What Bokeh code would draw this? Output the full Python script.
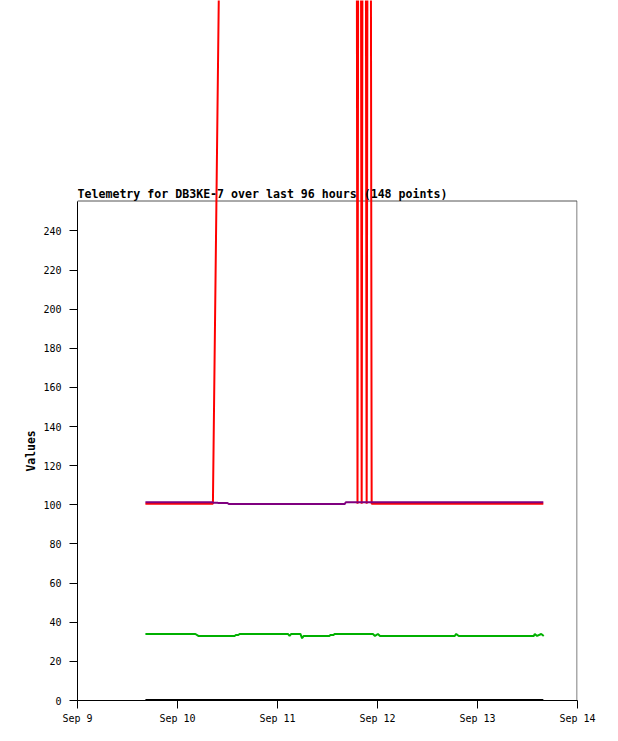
from datetime import datetime, timedelta

from bokeh.plotting import figure
from bokeh.models import (Range1d, FixedTicker, CustomJSTickFormatter,
                          BoxAnnotation, Label, Title)
from bokeh.embed import file_html
from bokeh.resources import INLINE

# ---- data (hours after 2024-09-09 00:00, value) ----
BASE = datetime(2024, 9, 9)

red_hours = [16.3, 32.5, 37.4, 66.7, 67.2, 67.7, 68.2, 68.8, 69.4, 70.0, 70.6, 111.8]
red_vals = [100.6, 100.6, 1000, 1000, 100.6, 1000, 100.6, 1000, 100.6, 1000, 100.6, 100.6]

purple_hours = [16.3, 32.4, 32.6, 33.6, 33.8, 36.0, 36.3, 64.1, 64.4, 111.8]
purple_vals = [101.3, 101.3, 101.1, 101.1, 100.9, 100.9, 100.4, 100.4, 101.3, 101.3]

green_hours = [16.3, 28.3, 29.0, 37.7, 38.0, 38.6, 38.9, 50.5, 50.9, 51.3, 53.5,
               53.9, 54.3, 60.5, 60.7, 61.5, 61.7, 70.9, 71.4, 72.1, 72.6, 90.55,
               90.9, 91.5, 109.5, 109.75, 110.3, 111.3, 111.9]
green_vals = [34, 34, 33, 33, 33.5, 33.5, 34, 34, 33, 34, 34,
              31.8, 33, 33, 33.5, 33.5, 34, 34, 33, 34, 33, 33,
              34, 33, 33, 34, 33, 34, 33]

black_hours = [16.3, 111.8]
black_vals = [0.3, 0.3]

day_ticks = [datetime(2024, 9, d) for d in range(9, 15)]
y_ticks = list(range(0, 241, 20))

TITLE = "Telemetry for DB3KE-7 over last 96 hours (148 points)"
Y_LABEL = "Values"

PX_PER_UNIT = 1.9567
FRAME_H = 700
BOX_TOP = (FRAME_H - 200.5) / PX_PER_UNIT
Y_END = FRAME_H / PX_PER_UNIT


def to_dt(hours):
    return [BASE + timedelta(hours=h) for h in hours]


def ms(d):
    return (d - datetime(1970, 1, 1)).total_seconds() * 1000.0


x0, x1 = ms(day_ticks[0]), ms(day_ticks[-1])
half_px = (x1 - x0) / 500 * 0.5

p = figure(width=610, height=FRAME_H + 33, output_backend="svg", toolbar_location=None,
           x_axis_type="datetime",
           x_range=Range1d(x0, x1),
           y_range=Range1d(0, Y_END))
p.min_border_left = 77
p.min_border_right = 33
p.min_border_top = 0
p.min_border_bottom = 33
p.outline_line_color = None
p.xgrid.grid_line_color = None
p.ygrid.grid_line_color = None
p.background_fill_color = "white"
p.border_fill_color = "white"

mono = "DejaVu Sans Mono"

# frame box (top/right grey)
p.add_layout(BoxAnnotation(left=x0, right=x1 - half_px,
                           bottom=0, top=BOX_TOP, fill_color=None, fill_alpha=0,
                           line_color="#555555", line_alpha=1.0, line_width=1,
                           level="underlay"))

p.line(to_dt(red_hours), red_vals, line_color="#ff0000", line_width=2)
p.line(to_dt(purple_hours), purple_vals, line_color="#7f007f", line_width=2)
p.line(to_dt(green_hours), green_vals, line_color="#00b000", line_width=2)
p.line(to_dt(black_hours), black_vals, line_color="#000000", line_width=2)

# y axis
ya = p.yaxis[0]
ya.ticker = FixedTicker(ticks=y_ticks)
ya.bounds = (0, BOX_TOP)
ya.axis_line_color = "black"
ya.major_tick_line_color = "black"
ya.major_tick_out = 8
ya.major_tick_in = 0
ya.minor_tick_line_color = None
ya.major_label_standoff = 8
ya.major_label_text_font = mono
ya.major_label_text_font_size = "10px"
ya.major_label_text_color = "black"

# x axis
xa = p.xaxis[0]
xa.ticker = FixedTicker(ticks=[ms(d) for d in day_ticks])
xa.formatter = CustomJSTickFormatter(code="""
const m = ["Jan","Feb","Mar","Apr","May","Jun","Jul","Aug","Sep","Oct","Nov","Dec"];
const d = new Date(tick);
return m[d.getUTCMonth()] + " " + d.getUTCDate();
""")
xa.axis_line_color = "black"
xa.major_tick_line_color = "black"
xa.major_tick_out = 8
xa.major_tick_in = 0
xa.minor_tick_line_color = None
xa.major_label_standoff = 4
xa.major_label_text_font = mono
xa.major_label_text_font_size = "10px"
xa.major_label_text_color = "black"

# chart title, sitting just above the box
p.add_layout(Label(x=0, y=BOX_TOP + 3.5, x_units="screen", y_units="data",
                   text=TITLE, text_font=mono, text_font_style="bold",
                   text_font_size="11.6px", text_color="black",
                   text_align="left", text_baseline="alphabetic"))

# y label, centred on the box (starts ~229px above the frame bottom)
p.add_layout(Title(text=Y_LABEL, align="left", offset=229,
                   text_font=mono, text_font_style="bold",
                   text_font_size="11.4px", text_color="black",
                   standoff=6), "left")

open("out.html", "w").write(file_html(p, INLINE))
